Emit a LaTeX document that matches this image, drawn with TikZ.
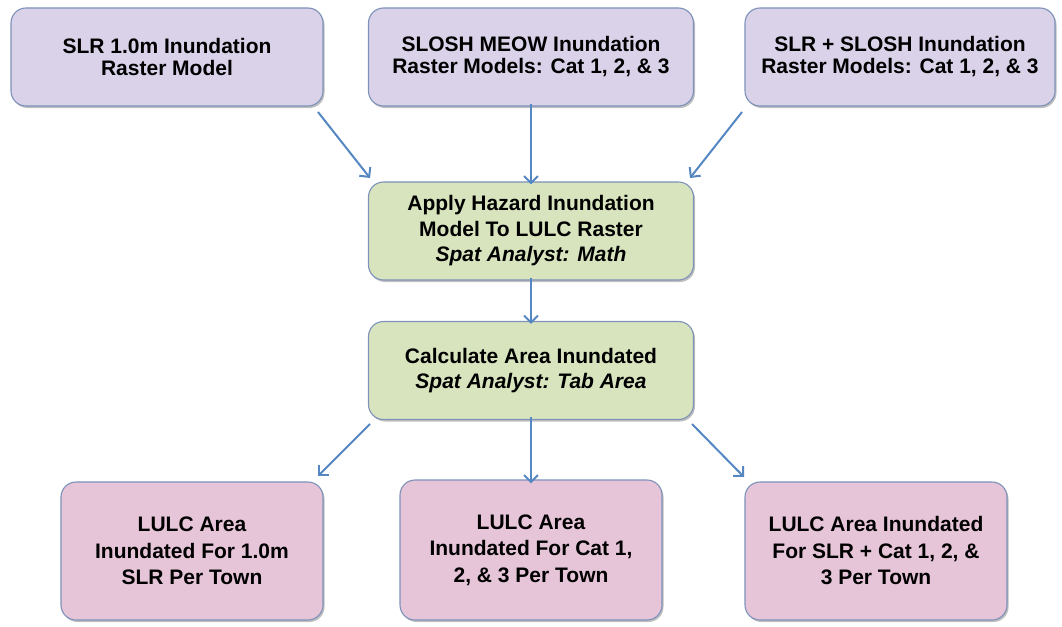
\documentclass[tikz,border=0pt]{standalone}
\usepackage{fontspec}
\setmainfont{Liberation Sans}
\usetikzlibrary{shadows,arrows.meta}
\definecolor{lav}{RGB}{217,210,233}
\definecolor{grn}{RGB}{216,228,190}
\definecolor{pnk}{RGB}{230,197,217}
\definecolor{bord}{RGB}{125,145,185}
\definecolor{arr}{RGB}{85,135,195}
\begin{document}
\begin{tikzpicture}[x=1pt,y=-1pt,
  box/.style={draw=bord, line width=1.1pt, rounded corners=15pt, align=center,
    font=\fontsize{21}{22}\selectfont\bfseries, inner sep=0pt,
    drop shadow={shadow xshift=1.5pt, shadow yshift=-2pt, opacity=0.25, fill=black}},
  midbox/.style={box, font=\fontsize{21}{25.5}\selectfont\bfseries},
  botbox/.style={box, font=\fontsize{21}{26.5}\selectfont\bfseries},
  conn/.style={draw=arr, line width=2pt, -{Straight Barb[length=7pt,width=14pt]}}
]
\useasboundingbox[fill=white] (0,0) rectangle (1062,626);
% top row
\node[box, fill=lav, minimum width=312pt, minimum height=98pt] (t1) at (167,57) {SLR 1.0m Inundation\\Raster Model};
\node[box, fill=lav, minimum width=325pt, minimum height=98pt] (t2) at (531,57) {SLOSH MEOW Inundation\\Raster Models: Cat 1, 2, \& 3};
\node[box, fill=lav, minimum width=310pt, minimum height=98pt] (t3) at (900,57) {SLR + SLOSH Inundation\\Raster Models: Cat 1, 2, \& 3};
% middle
\node[midbox, fill=grn, minimum width=325pt, minimum height=98pt] (m1) at (531,231) {Apply Hazard Inundation\\Model To LULC Raster\\\textit{Spat Analyst: Math}};
\node[midbox, fill=grn, minimum width=325pt, minimum height=98pt] (m2) at (531,370.5) {Calculate Area Inundated\\\textit{Spat Analyst: Tab Area}};
% bottom
\node[botbox, fill=pnk, minimum width=262pt, minimum height=138pt] (b1) at (192,551) {LULC Area\\Inundated For 1.0m\\SLR Per Town};
\node[botbox, fill=pnk, minimum width=262pt, minimum height=140pt] (b2) at (531,550) {LULC Area\\Inundated For Cat 1,\\2, \& 3 Per Town};
\node[botbox, fill=pnk, minimum width=262pt, minimum height=138pt] (b3) at (876,551) {LULC Area Inundated\\For SLR + Cat 1, 2, \&\\3 Per Town};
% connectors
\coordinate (a1s) at (318,112); \coordinate (a1e) at (370,178);
\coordinate (a3s) at (742,112); \coordinate (a3e) at (690,178);
\coordinate (c1s) at (370,424); \coordinate (c1e) at (318,476);
\coordinate (c3s) at (692,424); \coordinate (c3e) at (744,477);
\draw[conn] (a1s) -- (a1e);
\draw[conn] ([yshift=3pt]t2.south) -- ([yshift=-3pt]m1.north);
\draw[conn] (a3s) -- (a3e);
\draw[conn] ([yshift=3pt]m1.south) -- ([yshift=-3pt]m2.north);
\draw[conn] (c1s) -- (c1e);
\draw[conn] ([yshift=3pt]m2.south) -- ([yshift=-4pt]b2.north);
\draw[conn] (c3s) -- (c3e);
\end{tikzpicture}
\end{document}
